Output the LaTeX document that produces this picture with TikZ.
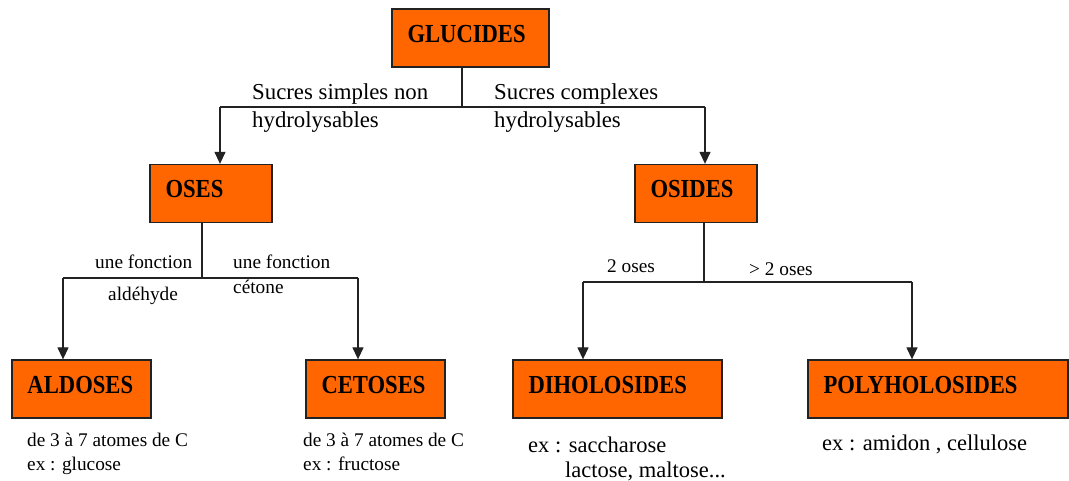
\documentclass[tikz,border=0pt]{standalone}
\usepackage{fontspec}
\setmainfont{Liberation Serif}
\newfontfamily\bxfont[FakeStretch=0.87]{Liberation Serif}
\usetikzlibrary{arrows.meta}
\definecolor{boxorange}{HTML}{FF6600}
\definecolor{linegray}{HTML}{222222}
\tikzset{
  box/.style={draw=linegray, line width=1.3bp, fill=boxorange, inner xsep=15.5bp, inner ysep=0pt,
    align=left, minimum height=58bp, text height=18bp, text depth=9bp,
    font=\bxfont\bfseries\fontsize{26bp}{30bp}\selectfont},
  conn/.style={draw=linegray, line width=1.3bp},
  arr/.style={conn, -{Triangle[length=12bp,width=11bp]}},
  lbl/.style={inner sep=0pt, anchor=base west, font=\fontsize{22.8bp}{26bp}\selectfont},
  slbl/.style={inner sep=0pt, anchor=base west, font=\fontsize{19.3bp}{23bp}\selectfont},
  mlbl/.style={inner sep=0pt, anchor=base west, font=\fontsize{22.5bp}{26bp}\selectfont},
}
\begin{document}
\begin{tikzpicture}[x=1bp, y=-1bp]
\useasboundingbox (0,0) rectangle (1069,481);
% boxes
\node[box, text width=126bp] (glucides) at (470.5,38) {GLUCIDES};
\node[box, text width=91bp] (oses) at (211,193.5) {OSES};
\node[box, text width=91bp] (osides) at (696,193.5) {OSIDES};
\node[box, text width=108bp] (aldoses) at (81.5,389) {ALDOSES};
\node[box, text width=108bp] (cetoses) at (375.5,389) {CETOSES};
\node[box, text width=178bp] (diholosides) at (617.5,389) {DIHOLOSIDES};
\node[box, text width=229bp] (polyholosides) at (938,389) {POLYHOLOSIDES};
% junction coordinates
\coordinate (g0) at (462,107);
\coordinate (gl) at (220,107);
\coordinate (gr) at (705,107);
\coordinate (o0) at (202,278);
\coordinate (ol) at (63,278);
\coordinate (or) at (358,278);
\coordinate (s0) at (704,282);
\coordinate (sl) at (583,282);
\coordinate (sr) at (912,282);
% connectors
\draw[conn] (glucides.south -| g0) -- (g0);
\draw[conn] (gl) -- (gr);
\draw[arr] (gl) -- (gl |- oses.north);
\draw[arr] (gr) -- (gr |- osides.north);
\draw[conn] (oses.south -| o0) -- (o0);
\draw[conn] (ol) -- (or);
\draw[arr] (ol) -- (ol |- aldoses.north);
\draw[arr] (or) -- (or |- cetoses.north);
\draw[conn] (osides.south -| s0) -- (s0);
\draw[conn] (sl) -- (sr);
\draw[arr] (sl) -- (sl |- diholosides.north);
\draw[arr] (sr) -- (sr |- polyholosides.north);
% labels
\node[lbl] (t1) at (252,100) {Sucres simples non};
\node[lbl] (t2) at (252,128) {hydrolysables};
\node[lbl] (t3) at (494,100) {Sucres complexes};
\node[lbl] (t4) at (494,128) {hydrolysables};
\node[slbl] (t5) at (95,269) {une fonction};
\node[slbl] (t6) at (233,269) {une fonction};
\node[slbl] (t7) at (108,301) {aldéhyde};
\node[slbl] (t8) at (233,294) {cétone};
\node[slbl] (t9) at (607,273) {2 oses};
\node[slbl] (t10) at (749,276) {> 2 oses};
\node[slbl] (t11) at (27,446) {de 3 à 7 atomes de C};
\node[slbl] (t12) at (27,470) {ex : glucose};
\node[slbl] (t13) at (303,446) {de 3 à 7 atomes de C};
\node[slbl] (t14) at (303,470) {ex : fructose};
\node[mlbl] (t15) at (528,452) {ex : saccharose};
\node[mlbl] (t16) at (565,477) {lactose, maltose...};
\node[mlbl] (t17) at (822,450) {ex : amidon , cellulose};
\end{tikzpicture}
\end{document}
